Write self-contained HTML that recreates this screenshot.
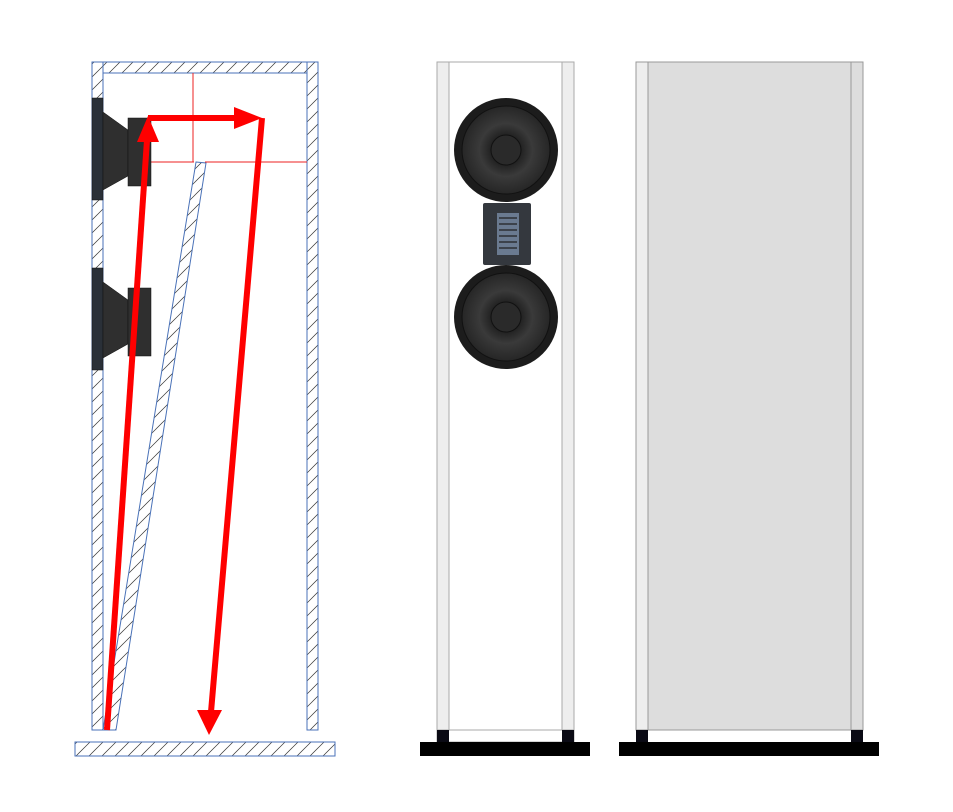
<!DOCTYPE html>
<html><head><meta charset="utf-8"><style>html,body{margin:0;padding:0;background:#fff;}svg{display:block}</style></head>
<body>
<svg width="953" height="812" viewBox="0 0 953 812" xmlns="http://www.w3.org/2000/svg">
<defs>
<pattern id="h" patternUnits="userSpaceOnUse" width="13" height="13">
<path d="M-2,15 L15,-2 M-2,2 L2,-2 M11,15 L15,11" stroke="#333" stroke-width="0.7"/>
</pattern>
<radialGradient id="cone" cx="50%" cy="50%" r="50%">
<stop offset="0" stop-color="#4a4a4a"/><stop offset="0.3" stop-color="#1e1e1e"/><stop offset="0.6" stop-color="#3a3a3a"/><stop offset="1" stop-color="#262626"/>
</radialGradient>
</defs>
<g stroke="#4a72b8" stroke-width="1" fill="url(#h)">
<rect x="92" y="62" width="11" height="668"/>
<rect x="307" y="62" width="11" height="668"/>
<rect x="103" y="62" width="204" height="11"/>
<polygon points="196,162 206,163 116,730 103,730"/>
<rect x="75" y="742" width="260" height="14"/>
</g>
<line x1="193" y1="73" x2="193" y2="162" stroke="#e22" stroke-width="1"/>
<line x1="103" y1="162" x2="194" y2="162" stroke="#e22" stroke-width="1"/>
<line x1="205" y1="162" x2="307" y2="162" stroke="#e22" stroke-width="1"/>
<g fill="#2f2f2f" stroke="#111" stroke-width="0.5">
<rect x="92" y="98" width="11" height="102" fill="#2a3038"/>
<polygon points="103,112 128,130 128,176 103,190"/>
<rect x="128" y="118" width="23" height="68"/>
<rect x="92" y="268" width="11" height="102" fill="#2a3038"/>
<polygon points="103,282 128,300 128,344 103,358"/>
<rect x="128" y="288" width="23" height="68"/>
</g>
<g stroke="#f00" stroke-width="6" fill="none">
<line x1="107" y1="730" x2="147" y2="140"/>
<line x1="148" y1="118" x2="238" y2="118"/>
<line x1="262" y1="118" x2="211" y2="712"/>
</g>
<g fill="#f00">
<polygon points="148,116 137,142 159,142"/>
<polygon points="262,118 234,107 234,129"/>
<polygon points="209,735 197,710 222,710"/>
</g>
<rect x="437" y="62" width="137" height="680" fill="#fff" stroke="#aaa" stroke-width="1"/>
<rect x="437" y="62" width="12" height="668" fill="#eee" stroke="#aaa" stroke-width="1"/>
<rect x="562" y="62" width="12" height="668" fill="#eee" stroke="#aaa" stroke-width="1"/>
<line x1="449" y1="730" x2="562" y2="730" stroke="#aaa"/>
<rect x="437" y="730" width="12" height="12" fill="#0a0a14"/>
<rect x="562" y="730" width="12" height="12" fill="#0a0a14"/>
<rect x="420" y="742" width="170" height="14" fill="#000"/>
<g>
<circle cx="506" cy="150" r="52" fill="#1c1c1c"/>
<circle cx="506" cy="150" r="44" fill="url(#cone)" stroke="#111"/>
<circle cx="506" cy="150" r="15" fill="#2a2a2a" stroke="#111"/>
<circle cx="506" cy="317" r="52" fill="#1c1c1c"/>
<circle cx="506" cy="317" r="44" fill="url(#cone)" stroke="#111"/>
<circle cx="506" cy="317" r="15" fill="#2a2a2a" stroke="#111"/>
<rect x="483" y="203" width="48" height="62" rx="2" fill="#34383e"/>
<rect x="497" y="213" width="22" height="42" fill="#6a7a90"/>
<g stroke="#222" stroke-width="1.2"><line x1="499" y1="218" x2="517" y2="218"/><line x1="499" y1="224" x2="517" y2="224"/><line x1="499" y1="230" x2="517" y2="230"/><line x1="499" y1="236" x2="517" y2="236"/><line x1="499" y1="242" x2="517" y2="242"/><line x1="499" y1="248" x2="517" y2="248"/></g>
</g>
<rect x="636" y="62" width="227" height="668" fill="#ddd" stroke="#999" stroke-width="1"/>
<rect x="636" y="62" width="12" height="668" fill="#eee" stroke="#999" stroke-width="1"/>
<rect x="851" y="62" width="12" height="668" fill="#ddd" stroke="#999" stroke-width="1"/>
<rect x="636" y="730" width="12" height="12" fill="#0a0a14"/>
<rect x="851" y="730" width="12" height="12" fill="#0a0a14"/>
<rect x="619" y="742" width="260" height="14" fill="#000"/>
</svg>
</body></html>
